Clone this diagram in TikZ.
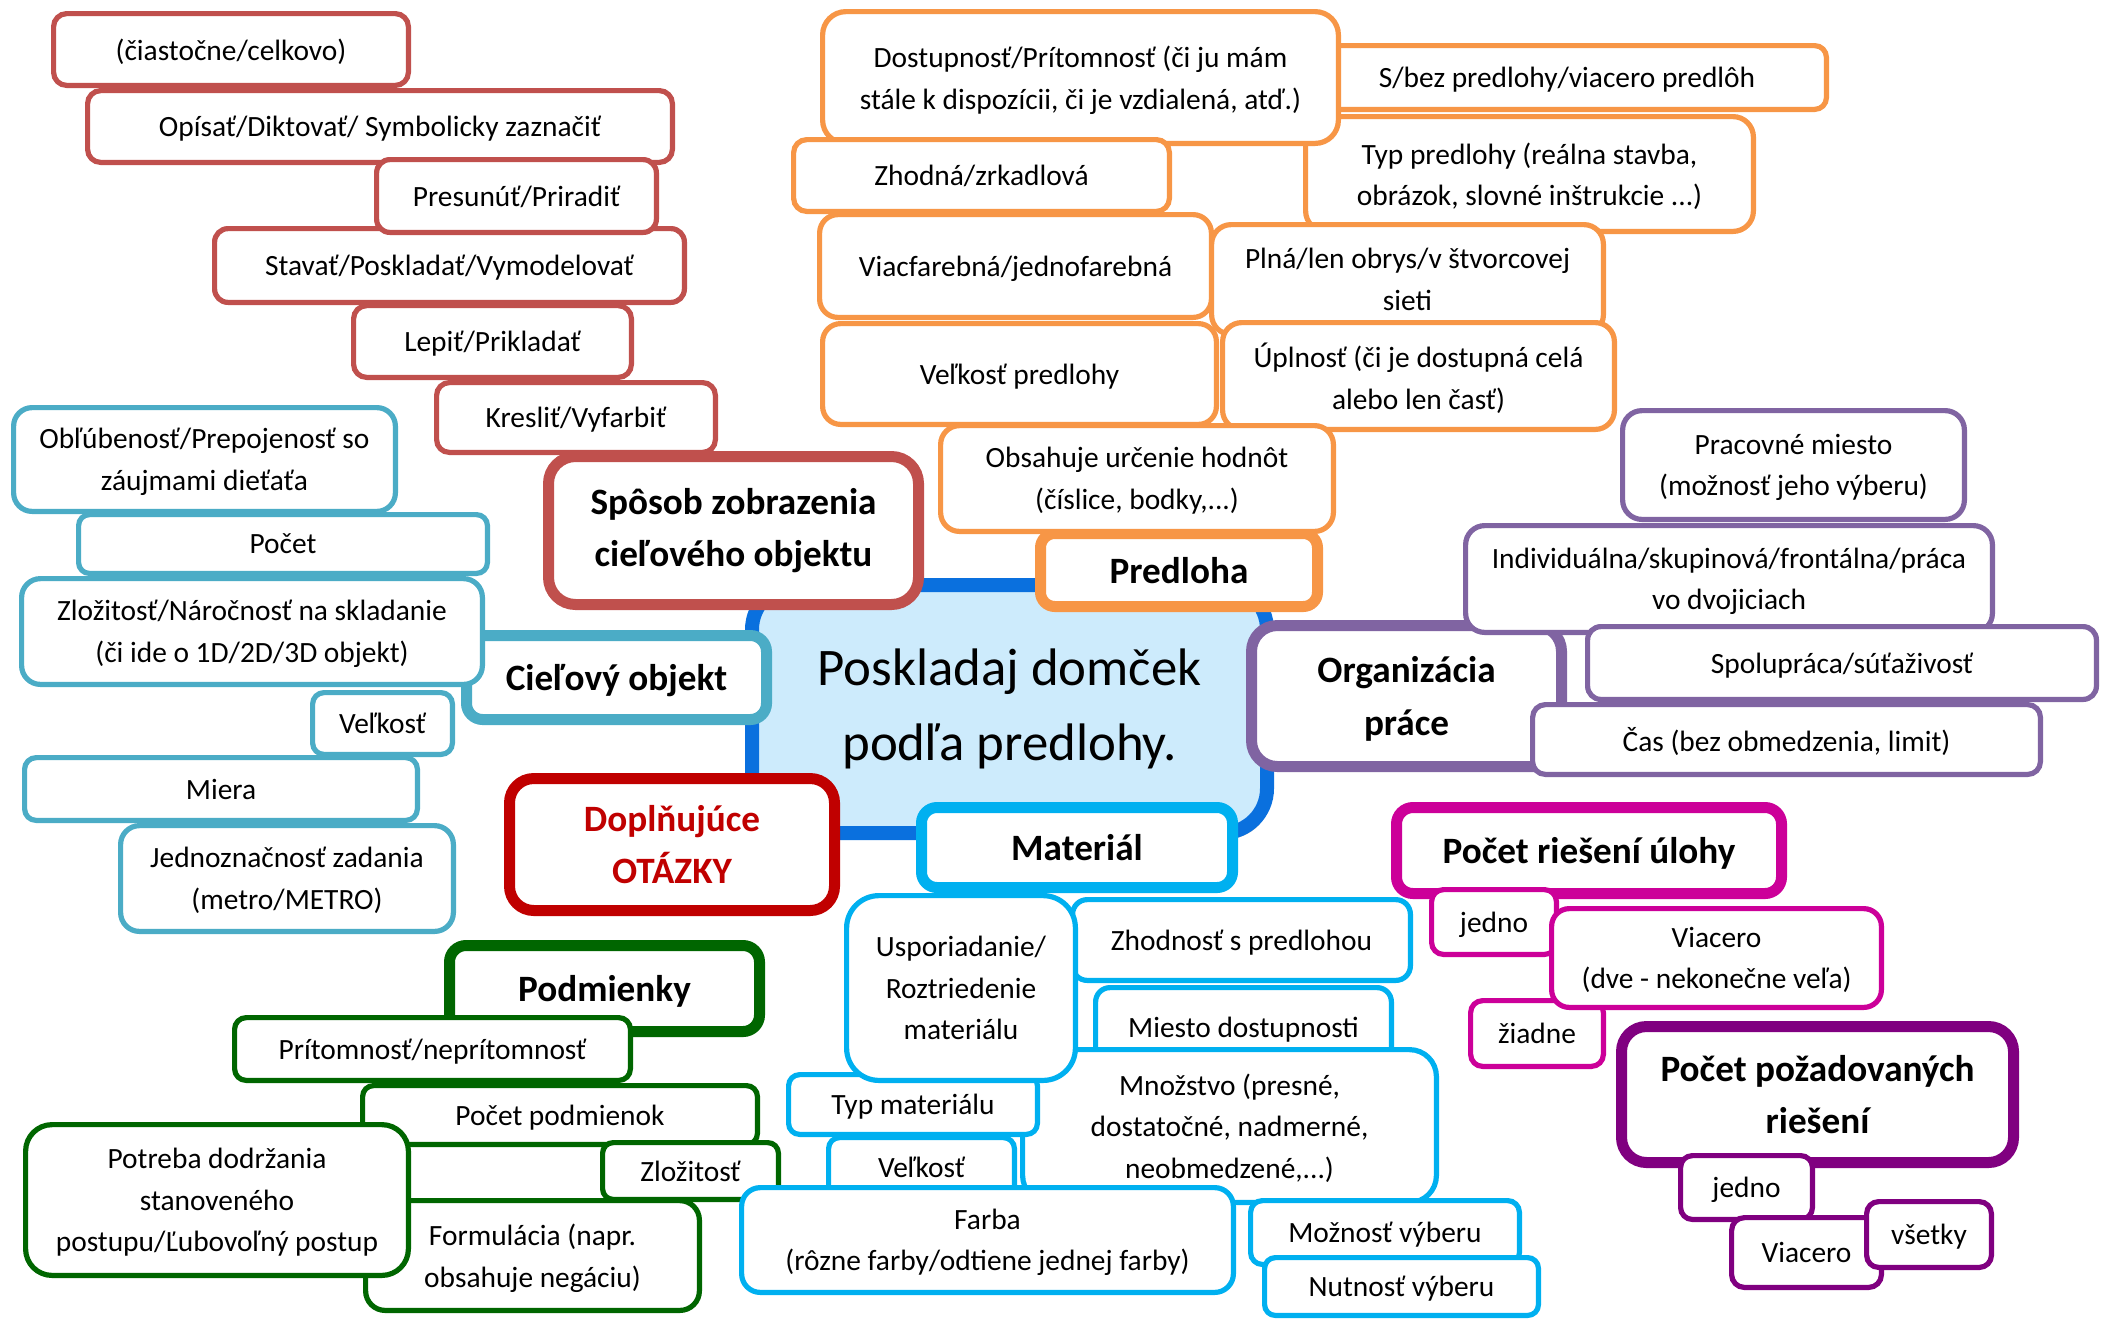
\documentclass[tikz,border=0pt]{standalone}
\usepackage{fontspec}
\setmainfont{Carlito}
\usetikzlibrary{shadows}
\definecolor{cred}{HTML}{C0504D}
\definecolor{corange}{HTML}{F79646}
\definecolor{cteal}{HTML}{4BACC6}
\definecolor{cpurple}{HTML}{8064A2}
\definecolor{ccyan}{HTML}{00B0F0}
\definecolor{cdred}{HTML}{C00000}
\definecolor{cgreen}{HTML}{006600}
\definecolor{cmag}{HTML}{CC0099}
\definecolor{cdpurple}{HTML}{800080}
\definecolor{cblue}{HTML}{0A70DE}
\definecolor{cfill}{HTML}{CDEBFC}
\newcommand\bxnode[7]{%
  \pgfmathsetmacro\bxr{0.5*0.17*min(#5-#3,#6-#4)}%
  \node[#1, rounded corners=\bxr pt,
    minimum width={(#5-#3)*0.5pt-\pgflinewidth},
    minimum height={(#6-#4)*0.5pt-\pgflinewidth}]
    (#2) at ({(#3+#5)/2},{(#4+#6)/2}) {#7};}
\tikzset{
  basebox/.style={draw, fill=white, align=center, inner sep=0pt, text=black, text depth=0pt},
  thinbox/.style={basebox, line width=2.6pt, font={\fontsize{14.7}{20.75}\selectfont}},
  thickbox/.style={basebox, line width=5.5pt, font={\fontsize{18.6}{26.2}\selectfont\bfseries}},
  centerbox/.style={draw=cblue, fill=cfill, align=center, inner sep=0pt, line width=7pt,
    font={\fontsize{26.4}{37.7}\selectfont},
    drop shadow={shadow xshift=2pt, shadow yshift=-3pt, opacity=.35, fill=black!70}},
}
\begin{document}
\begin{tikzpicture}[x=0.5pt, y=-0.5pt]
\useasboundingbox (0,0) rectangle (2112,1319);
% center
\bxnode{centerbox}{cen}{745}{578}{1274}{840}{Poskladaj domček\\podľa predlohy.}
% red group
\bxnode{thickbox, draw=cred, text depth=3pt}{spos}{543}{451}{924}{610}{Spôsob zobrazenia\\cieľového objektu}
\bxnode{thinbox, draw=cred}{r1}{51}{11}{411}{88}{(čiastočne/celkovo)}
\bxnode{thinbox, draw=cred}{r2}{85}{88}{675}{165}{Opísať/Diktovať/ Symbolicky zaznačiť}
\bxnode{thinbox, draw=cred}{r4}{212}{226}{687}{305}{Stavať/Poskladať/Vymodelovať}
\bxnode{thinbox, draw=cred}{r3}{374}{157}{659}{235}{Presunúť/Priradiť}
\bxnode{thinbox, draw=cred}{r5}{351}{303}{634}{380}{Lepiť/Prikladať}
\bxnode{thinbox, draw=cred}{r6}{434}{380}{718}{455}{Kresliť/Vyfarbiť}
% orange group
\bxnode{thickbox, draw=corange}{pred}{1035}{528}{1323}{612}{Predloha}
\bxnode{thinbox, draw=corange}{o9}{1305}{43}{1829}{112}{S/bez predlohy/viacero predlôh}
\bxnode{thinbox, draw=corange}{o10}{1303}{114}{1756}{234}{Typ predlohy (reálna stavba,\\obrázok, slovné inštrukcie ...)}
\bxnode{thinbox, draw=corange}{o8}{820}{9}{1341}{146}{Dostupnosť/Prítomnosť (či ju mám\\stále k dispozícii, či je vzdialená, atď.)}
\bxnode{thinbox, draw=corange}{o11}{791}{137}{1172}{214}{Zhodná/zrkadlová}
\bxnode{thinbox, draw=corange}{o12}{817}{212}{1214}{320}{Viacfarebná/jednofarebná}
\bxnode{thinbox, draw=corange}{o13}{1209}{222}{1606}{337}{Plná/len obrys/v štvorcovej\\sieti}
\bxnode{thinbox, draw=corange}{o14}{820}{321}{1219}{427}{Veľkosť predlohy}
\bxnode{thinbox, draw=corange}{o15}{1220}{320}{1617}{432}{Úplnosť (či je dostupná celá\\alebo len časť)}
\bxnode{thinbox, draw=corange}{o16}{938}{423}{1336}{534}{Obsahuje určenie hodnôt\\(číslice, bodky,...)}
% teal group
\bxnode{thickbox, draw=cteal}{ciel}{461}{630}{772}{725}{Cieľový objekt}
\bxnode{thinbox, draw=cteal}{t18}{11}{405}{398}{514}{Obľúbenosť/Prepojenosť so\\záujmami dieťaťa}
\bxnode{thinbox, draw=cteal}{t19}{76}{512}{490}{576}{Počet}
\bxnode{thinbox, draw=cteal}{t20}{19}{576}{485}{687}{Zložitosť/Náročnosť na skladanie\\(či ide o 1D/2D/3D objekt)}
\bxnode{thinbox, draw=cteal}{t22}{310}{690}{455}{757}{Veľkosť}
\bxnode{thinbox, draw=cteal}{t23}{22}{755}{420}{823}{Miera}
\bxnode{thinbox, draw=cteal}{t24}{118}{823}{456}{934}{Jednoznačnosť zadania\\(metro/METRO)}
% additional questions
\bxnode{thickbox, draw=cdred, text=cdred, text depth=-3pt}{dopl}{504}{773}{840}{916}{Doplňujúce\\OTÁZKY}
% purple group
\bxnode{thickbox, draw=cpurple}{org}{1246}{620}{1567}{772}{Organizácia\\práce}
\bxnode{thinbox, draw=cpurple}{p27}{1620}{408}{1967}{522}{Pracovné miesto\\(možnosť jeho výberu)}
\bxnode{thinbox, draw=cpurple}{p28}{1463}{523}{1995}{635}{Individuálna/skupinová/frontálna/práca\\vo dvojiciach}
\bxnode{thinbox, draw=cpurple}{p29}{1585}{624}{2099}{702}{Spolupráca/súťaživosť}
\bxnode{thinbox, draw=cpurple}{p30}{1530}{702}{2043}{777}{Čas (bez obmedzenia, limit)}
% green group
\bxnode{thickbox, draw=cgreen}{podm}{444}{940}{765}{1037}{Podmienky}
\bxnode{thinbox, draw=cgreen}{g40}{232}{1015}{633}{1083}{Prítomnosť/neprítomnosť}
\bxnode{thinbox, draw=cgreen}{g41}{360}{1083}{760}{1147}{Počet podmienok}
\bxnode{thinbox, draw=cgreen}{g42}{600}{1140}{781}{1202}{Zložitosť}
\bxnode{thinbox, draw=cgreen}{g44}{363}{1198}{702}{1313}{Formulácia (napr.\\obsahuje negáciu)}
\bxnode{thinbox, draw=cgreen}{g43}{23}{1122}{411}{1278}{Potreba dodržania\\stanoveného\\postupu/Ľubovoľný postup}
% cyan group
\bxnode{thickbox, draw=ccyan, text depth=-4pt}{mat}{916}{802}{1238}{893}{Materiál}
\bxnode{thinbox, draw=ccyan}{c46}{1070}{897}{1413}{983}{Zhodnosť s predlohou}
\bxnode{thinbox, draw=ccyan}{c47}{1093}{985}{1394}{1069}{Miesto dostupnosti}
\bxnode{thinbox, draw=ccyan}{c48}{1020}{1047}{1439}{1205}{Množstvo (presné,\\dostatočné, nadmerné,\\neobmedzené,...)}
\bxnode{thinbox, draw=ccyan}{c49}{786}{1072}{1040}{1137}{Typ materiálu}
\bxnode{thinbox, draw=ccyan}{c50}{826}{1135}{1017}{1199}{Veľkosť}
\bxnode{thinbox, draw=ccyan}{c45}{844}{893}{1078}{1083}{Usporiadanie/\\Roztriedenie\\materiálu}
\bxnode{thinbox, draw=ccyan}{c51}{739}{1185}{1236}{1295}{Farba\\(rôzne farby/odtiene jednej farby)}
\bxnode{thinbox, draw=ccyan}{c52}{1248}{1198}{1522}{1267}{Možnosť výberu}
\bxnode{thinbox, draw=ccyan}{c53}{1262}{1255}{1541}{1318}{Nutnosť výberu}
% magenta group
\bxnode{thickbox, draw=cmag}{mag}{1391}{802}{1787}{899}{Počet riešení úlohy}
\bxnode{thinbox, draw=cmag}{m32}{1429}{887}{1559}{957}{jedno}
\bxnode{thinbox, draw=cmag}{m34}{1468}{998}{1606}{1069}{žiadne}
\bxnode{thinbox, draw=cmag}{m33}{1549}{906}{1884}{1010}{Viacero\\(dve - nekonečne veľa)}
% dark purple group
\bxnode{thickbox, draw=cdpurple, text depth=-4pt}{dp}{1616}{1021}{2019}{1168}{Počet požadovaných\\riešení}
\bxnode{thinbox, draw=cdpurple}{d36}{1678}{1153}{1815}{1222}{jedno}
\bxnode{thinbox, draw=cdpurple}{d37}{1729}{1215}{1884}{1290}{Viacero}
\bxnode{thinbox, draw=cdpurple}{d38}{1864}{1199}{1994}{1270}{všetky}
\end{tikzpicture}
\end{document}
